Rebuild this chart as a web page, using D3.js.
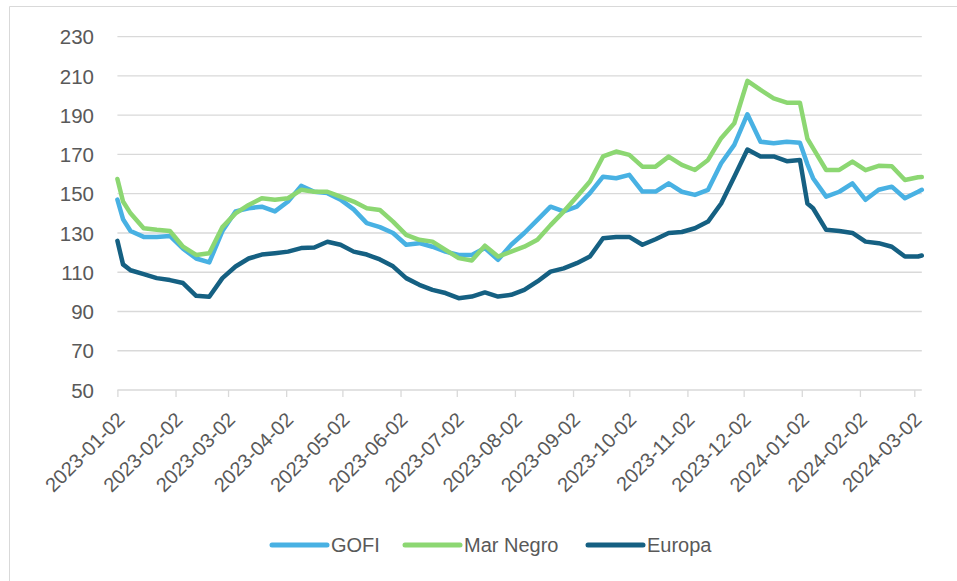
<!DOCTYPE html>
<html>
<head>
<meta charset="utf-8">
<script src="https://cdn.jsdelivr.net/npm/d3@7"></script>
<style>
  html, body { margin: 0; padding: 0; background: #ffffff; }
  svg { display: block; }
  text { font-family: "Liberation Sans", Arial, sans-serif; fill: #595959; }
</style>
</head>
<body>
<svg id="chart" width="957" height="581"></svg>
<script>
// ---- data ----
const dates = [
  "2023-01-02","2023-01-05","2023-01-09","2023-01-16","2023-01-23","2023-01-30",
  "2023-02-06","2023-02-13","2023-02-20","2023-02-27","2023-03-06","2023-03-13",
  "2023-03-20","2023-03-27","2023-04-03","2023-04-10","2023-04-17","2023-04-24",
  "2023-05-01","2023-05-08","2023-05-15","2023-05-22","2023-05-29","2023-06-05",
  "2023-06-12","2023-06-19","2023-06-26","2023-07-03","2023-07-10","2023-07-17",
  "2023-07-24","2023-07-31","2023-08-07","2023-08-14","2023-08-21","2023-08-28",
  "2023-09-04","2023-09-11","2023-09-18","2023-09-25","2023-10-02","2023-10-09",
  "2023-10-16","2023-10-23","2023-10-30","2023-11-06","2023-11-13","2023-11-20",
  "2023-11-27","2023-12-04","2023-12-11","2023-12-18","2023-12-25","2024-01-01",
  "2024-01-05","2024-01-08","2024-01-15","2024-01-22","2024-01-29","2024-02-05",
  "2024-02-12","2024-02-19","2024-02-26","2024-03-04","2024-03-06"
];
const gofi = [
  147,137,131,128,128,128.5,
  122,117,115,131,141,142.6,
  143.4,141,146,154,151,150.3,
  147,142,135,133,130,124,
  124.8,123,120.5,118.8,118.8,122.3,
  116.3,124,130,136.7,143.4,141,
  143.4,150.3,158.7,157.9,159.6,151.1,
  151.1,155.3,151,149.4,152,165.5,
  174.9,190.5,176.5,175.7,176.5,176,
  165,157.9,148.5,151,155.3,146.9,
  152,153.6,147.7,151,152
];
const marNegro = [
  157.5,146,140,132.4,131.6,131,
  123,118.8,119.7,133,140,144.3,
  147.7,146.9,147.7,152,151,151,
  148.5,146,142.6,141.7,135.8,129,
  126.5,125.6,121.4,117.2,116,123.5,
  118,120.5,123,126.5,134,140.9,
  148.5,156.2,169,171.5,169.8,163.8,
  163.8,168.9,164.7,162.1,167.2,178.3,
  185.9,207.5,202.9,198.6,196.4,196.4,
  178,173.2,162.1,162.1,166.4,162,
  164.2,164,157,158.4,158.5
];
const europa = [
  126,114,111,109,107,106,
  104.5,98,97.5,107,112.9,117,
  119,119.7,120.5,122.3,122.6,125.5,
  124,120.5,119,116.5,113,107,
  103.6,101,99.4,96.8,97.6,99.7,
  97.6,98.5,101,105.3,110.3,112,
  114.6,118,127.3,128,128,124,
  126.8,130,130.5,132.4,135.8,145,
  158.7,172.5,169,169,166.6,167.2,
  145,142.6,131.6,131,130,125.6,
  124.8,123,118,118,118.5
];
const seriesNames = ["GOFI", "Mar Negro", "Europa"];
const seriesColors = ["#48b1e3", "#8cd772", "#156082"];
const yTicks = [50, 70, 90, 110, 130, 150, 170, 190, 210, 230];
const xTickLabels = [
  "2023-01-02","2023-02-02","2023-03-02","2023-04-02","2023-05-02","2023-06-02",
  "2023-07-02","2023-08-02","2023-09-02","2023-10-02","2023-11-02","2023-12-02",
  "2024-01-02","2024-02-02","2024-03-02"
];

// ---- drawing ----
const parse = d3.timeParse("%Y-%m-%d");
const svg = d3.select("#chart");

// outer frame (top and left edges visible in the reference)
svg.append("path")
  .attr("d", "M9.5,581V6.5H957")
  .attr("fill", "none").attr("stroke", "#d9d9d9").attr("stroke-width", 1);

const x = d3.scaleTime()
  .domain([parse("2023-01-02"), parse("2024-03-02")])
  .range([117.4, 914.3]);
const y = d3.scaleLinear().domain([50, 230]).range([390, 36.7]);

const xEnd = x(parse(dates[dates.length - 1]));

// gridlines
const grid = svg.append("g");
grid.selectAll("line")
  .data(yTicks.filter(v => v !== 50))
  .join("line")
  .attr("x1", x(parse(dates[0]))).attr("x2", xEnd)
  .attr("y1", d => y(d)).attr("y2", d => y(d))
  .attr("stroke", "#d9d9d9").attr("stroke-width", 1.3);

// y axis labels
const yAxis = d3.axisLeft(y).tickValues(yTicks).tickSize(0).tickPadding(0);
const yG = svg.append("g").attr("transform", "translate(94,0)").call(yAxis);
yG.select(".domain").remove();
yG.selectAll("text")
  .attr("font-size", 20.5).attr("font-family", "Liberation Sans, Arial, sans-serif")
  .attr("fill", "#595959").attr("dy", "0.35em");

// x axis
const xTicks = xTickLabels.map(parse);
const xAxis = d3.axisBottom(x).tickValues(xTicks).tickSize(7)
  .tickFormat(d3.timeFormat("%Y-%m-%d"));
const xG = svg.append("g").attr("transform", "translate(0,390)").call(xAxis);
xG.select(".domain")
  .attr("d", `M${x(parse(dates[0]))},0H${xEnd}`)
  .attr("stroke", "#d9d9d9").attr("stroke-width", 1.3);
xG.selectAll(".tick line").attr("stroke", "#d9d9d9").attr("stroke-width", 1.3);
xG.selectAll(".tick text")
  .attr("font-size", 20).attr("font-family", "Liberation Sans, Arial, sans-serif")
  .attr("fill", "#595959")
  .attr("text-anchor", "end")
  .attr("transform", "translate(3,26) rotate(-45)")
  .attr("x", 0).attr("y", 0).attr("dy", "0.35em");

// lines
const allSeries = [gofi, marNegro, europa];
const line = d3.line()
  .x((d, i) => x(parse(dates[i])))
  .y(d => y(d));
const drawOrder = [2, 0, 1];
drawOrder.forEach(si => {
  svg.append("path")
    .datum(allSeries[si])
    .attr("fill", "none")
    .attr("stroke", seriesColors[si])
    .attr("stroke-width", 4.5)
    .attr("stroke-linejoin", "round")
    .attr("stroke-linecap", "round")
    .attr("d", line);
});

// legend
const legendX = [272, 405, 588];
const legend = svg.append("g").attr("transform", "translate(0,545)");
seriesNames.forEach((name, i) => {
  legend.append("line")
    .attr("x1", legendX[i]).attr("x2", legendX[i] + 55)
    .attr("y1", 0).attr("y2", 0)
    .attr("stroke", seriesColors[i]).attr("stroke-width", 5)
    .attr("stroke-linecap", "round");
  legend.append("text")
    .attr("x", legendX[i] + 59).attr("y", 0).attr("dy", "0.35em")
    .attr("font-size", 20).attr("fill", "#595959")
    .text(name);
});
</script>
</body>
</html>
